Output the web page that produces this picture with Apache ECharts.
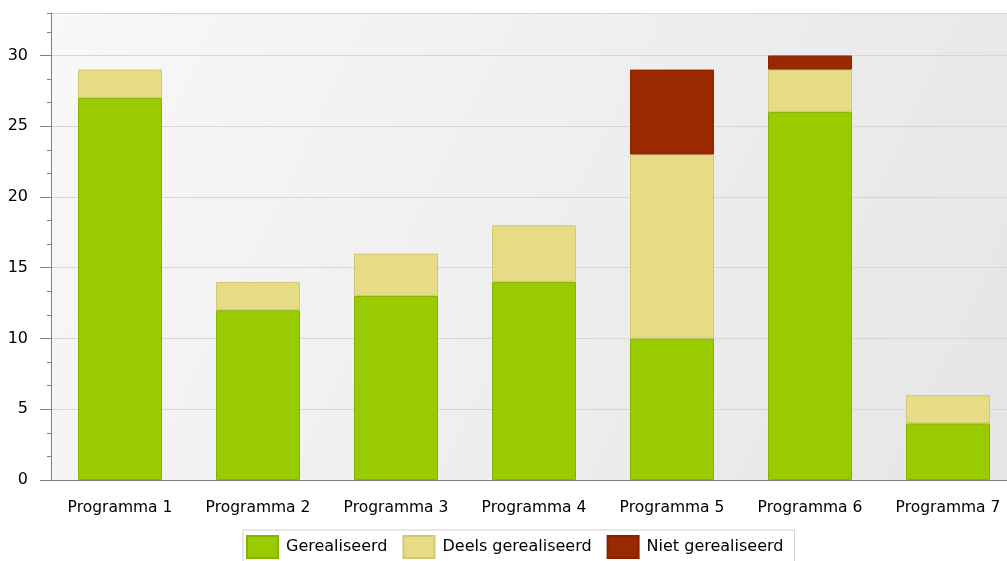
<!DOCTYPE html>
<html><head><meta charset="utf-8">
<script src="https://cdn.jsdelivr.net/npm/echarts@6/dist/echarts.min.js"></script>
<style>html,body{margin:0;padding:0;background:#fff}#c{width:1007px;height:561px}</style>
</head><body><div id="c"></div>
<script>
var categories = ['Programma 1','Programma 2','Programma 3','Programma 4','Programma 5','Programma 6','Programma 7'];
var gerealiseerd = [27, 12, 13, 14, 10, 26, 4];
var deels = [2, 2, 3, 4, 13, 3, 2];
var niet = [0, 0, 0, 0, 6, 1, 0];
var seriesNames = ['Gerealiseerd','Deels gerealiseerd','Niet gerealiseerd'];

var subCats = [];
for (var i = 0; i < categories.length * 5; i++) subCats.push('s' + i);

var font = 'DejaVu Sans';
var chart = echarts.init(document.getElementById('c'));
function bar(name, data, color, border) {
  return {
    name: name, type: 'bar', stack: 'total', barWidth: 84,
    data: data.map(function (v) { return v === 0 ? '-' : v; }),
    xAxisIndex: 0, yAxisIndex: 0,
    itemStyle: { color: color, borderColor: border, borderWidth: 1 },
    emphasis: { disabled: true }
  };
}
chart.setOption({
  animation: false,
  textStyle: { fontFamily: font },
  grid: {
    left: 51, top: 13, bottom: 81, width: 966, show: true, borderWidth: 0,
    outerBoundsMode: 'none', containLabel: false,
    backgroundColor: { type: 'linear', x: 0, y: 0, x2: 1, y2: 1,
      colorStops: [{ offset: 0, color: '#f8f8f8' }, { offset: 1, color: '#e5e5e5' }] }
  },
  legend: {
    left: 243, top: 530, itemWidth: 31, itemHeight: 22, itemGap: 15,
    padding: [5, 11, 6, 3], borderColor: '#cfcfcf', borderWidth: 1, backgroundColor: '#ffffff',
    icon: 'rect', selectedMode: false,
    textStyle: { fontFamily: font, fontSize: 16, color: '#000', padding: [0, 0, 0, 3] },
    data: seriesNames
  },
  xAxis: [{
    type: 'category', data: categories, boundaryGap: true,
    axisLine: { lineStyle: { color: '#7f7f7f', width: 1 } },
    axisTick: { alignWithLabel: true, length: 9, lineStyle: { color: '#7f7f7f' } },
    axisLabel: { fontFamily: font, fontSize: 15.5, color: '#000', margin: 20 },
    splitLine: { show: false }
  }, {
    type: 'category', data: subCats, boundaryGap: true, position: 'bottom',
    axisLine: { show: false },
    axisTick: { alignWithLabel: true, length: 4, interval: 0, lineStyle: { color: '#7f7f7f' } },
    axisLabel: { show: false }, splitLine: { show: false }
  }],
  yAxis: [{
    type: 'value', min: 0, max: 33, interval: 5,
    axisLine: { show: true, lineStyle: { color: '#7f7f7f', width: 1 } },
    axisTick: { show: true, length: 11, lineStyle: { color: '#7f7f7f' } },
    axisLabel: { fontFamily: font, fontSize: 16, color: '#000', margin: 23, showMaxLabel: false },
    splitLine: { show: true, lineStyle: { color: '#d6d6d6', width: 1 } }
  }, {
    type: 'value', min: 0, max: 33, interval: 5 / 3, position: 'left',
    axisLine: { show: false },
    axisTick: { show: true, length: 4, lineStyle: { color: '#7f7f7f' } },
    axisLabel: { show: false }, splitLine: { show: false }
  }],
  series: [
    bar(seriesNames[0], gerealiseerd, '#99cc00', '#86b300'),
    bar(seriesNames[1], deels, '#e5dc85', '#d3c872'),
    bar(seriesNames[2], niet, '#9a2900', '#862300')
  ]
});
</script></body></html>
